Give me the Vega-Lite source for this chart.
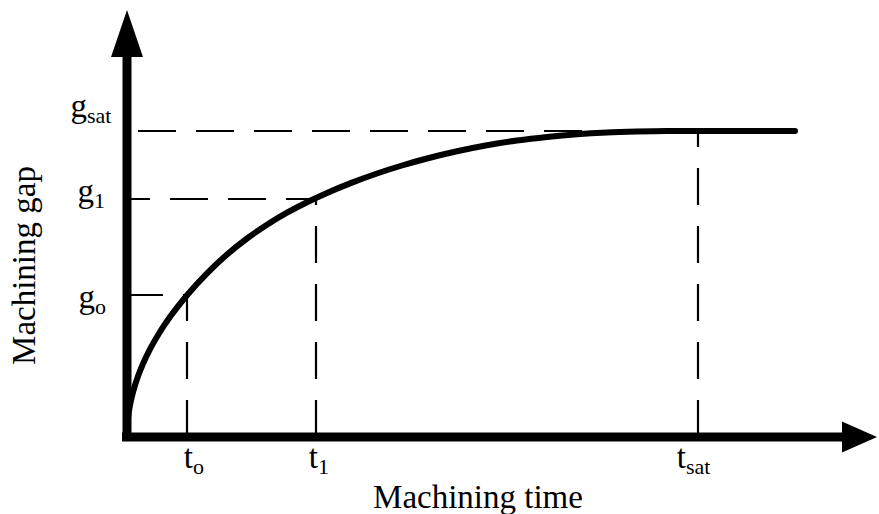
{
  "$schema": "https://vega.github.io/schema/vega-lite/v6.json",
  "width": 879,
  "height": 514,
  "padding": 0,
  "autosize": {"type": "none"},
  "background": "white",
  "config": {
    "view": {"stroke": null},
    "text": {"font": "Liberation Serif", "color": "black"}
  },
  "datasets": {
    "curve": [
      {"t": 0, "g": 0}, {"t": 0.5, "g": 12.9}, {"t": 1, "g": 18.3}, {"t": 2, "g": 25.9},
      {"t": 4, "g": 36.6}, {"t": 7, "g": 48.4}, {"t": 11, "g": 60.7}, {"t": 16, "g": 73.2},
      {"t": 23, "g": 87.8}, {"t": 32, "g": 103.5}, {"t": 44, "g": 121.4}, {"t": 60, "g": 141.8},
      {"t": 80, "g": 163.7}, {"t": 100, "g": 182.5}, {"t": 120, "g": 198.5}, {"t": 140, "g": 212.3},
      {"t": 160, "g": 224.3}, {"t": 180, "g": 234.8}, {"t": 200, "g": 244.1}, {"t": 225, "g": 254.4},
      {"t": 250, "g": 263.5}, {"t": 275, "g": 271.5}, {"t": 300, "g": 278.5}, {"t": 330, "g": 285.7},
      {"t": 360, "g": 291.7}, {"t": 390, "g": 296.5}, {"t": 420, "g": 300.1}, {"t": 450, "g": 302.8},
      {"t": 480, "g": 304.5}, {"t": 510, "g": 305.4}, {"t": 540, "g": 305.9}, {"t": 570, "g": 306},
      {"t": 668, "g": 306}
    ],
    "hguides": [
      {"level": "gsat", "g": 306, "from": 11, "to": 523},
      {"level": "g1", "g": 238, "from": 4, "to": 189},
      {"level": "g0", "g": 142, "from": 4, "to": 60}
    ],
    "vguides": [
      {"time": "t0", "t": 60, "base": 0, "g": 142},
      {"time": "t1", "t": 189, "base": 0, "g": 238},
      {"time": "tsat", "t": 571, "base": 0, "g": 306}
    ],
    "axes": [
      {"axis": "y", "x": 0, "x2": 0, "y": -4, "y2": 382},
      {"axis": "x", "x": -5, "x2": 717, "y": 0, "y2": 0}
    ],
    "arrows": [
      {"dir": "y", "x": 0, "y": 403.5},
      {"dir": "x", "x": 732.5, "y": 0}
    ],
    "ticklabels": [
      {"main": "g", "sub": "sat", "x": -40, "y": 320},
      {"main": "g", "sub": "1", "x": -33, "y": 235},
      {"main": "g", "sub": "o", "x": -32, "y": 129},
      {"main": "t", "sub": "o", "x": 66, "y": -31},
      {"main": "t", "sub": "1", "x": 191, "y": -31},
      {"main": "t", "sub": "sat", "x": 559, "y": -31}
    ],
    "titles": [
      {"text": "Machining time", "x": 351, "y": -71, "dir": "h"},
      {"text": "Machining gap", "x": -92, "y": 171.5, "dir": "v"}
    ]
  },
  "layer": [
    {
      "data": {"name": "vguides"},
      "mark": {"type": "rule", "color": "black", "strokeWidth": 2.2, "strokeDash": [37, 21]},
      "encoding": {
        "x": {"field": "t", "type": "quantitative", "axis": null, "scale": {"domain": [-127, 752], "nice": false, "zero": false}},
        "y": {"field": "base", "type": "quantitative", "axis": null, "scale": {"domain": [-77, 437], "nice": false, "zero": false}},
        "y2": {"field": "g"}
      }
    },
    {
      "data": {"name": "hguides"},
      "transform": [{"filter": "datum.level === 'gsat'"}],
      "mark": {"type": "rule", "color": "black", "strokeWidth": 2.2, "strokeDash": [38, 20], "strokeDashOffset": 0},
      "encoding": {
        "x": {"field": "from", "type": "quantitative", "axis": null},
        "x2": {"field": "to"},
        "y": {"field": "g", "type": "quantitative", "axis": null}
      }
    },
    {
      "data": {"name": "hguides"},
      "transform": [{"filter": "datum.level === 'g1'"}],
      "mark": {"type": "rule", "color": "black", "strokeWidth": 2.2, "strokeDash": [38, 20], "strokeDashOffset": 19},
      "encoding": {
        "x": {"field": "from", "type": "quantitative", "axis": null},
        "x2": {"field": "to"},
        "y": {"field": "g", "type": "quantitative", "axis": null}
      }
    },
    {
      "data": {"name": "hguides"},
      "transform": [{"filter": "datum.level === 'g0'"}],
      "mark": {"type": "rule", "color": "black", "strokeWidth": 2.2, "strokeDash": [38, 20], "strokeDashOffset": 6},
      "encoding": {
        "x": {"field": "from", "type": "quantitative", "axis": null},
        "x2": {"field": "to"},
        "y": {"field": "g", "type": "quantitative", "axis": null}
      }
    },
    {
      "data": {"name": "curve"},
      "mark": {"type": "line", "color": "black", "strokeWidth": 6, "interpolate": "monotone", "strokeCap": "round"},
      "encoding": {
        "x": {"field": "t", "type": "quantitative", "axis": null},
        "y": {"field": "g", "type": "quantitative", "axis": null}
      }
    },
    {
      "data": {"name": "axes"},
      "mark": {"type": "rule", "color": "black", "strokeWidth": 9, "strokeCap": "butt"},
      "encoding": {
        "x": {"field": "x", "type": "quantitative", "axis": null},
        "x2": {"field": "x2"},
        "y": {"field": "y", "type": "quantitative", "axis": null},
        "y2": {"field": "y2"}
      }
    },
    {
      "data": {"name": "arrows"},
      "transform": [{"filter": "datum.dir === 'y'"}],
      "mark": {"type": "point", "filled": true, "color": "black", "opacity": 1, "shape": "M0,-1L0.68,1L-0.68,1Z", "size": 2209},
      "encoding": {
        "x": {"field": "x", "type": "quantitative", "axis": null},
        "y": {"field": "y", "type": "quantitative", "axis": null}
      }
    },
    {
      "data": {"name": "arrows"},
      "transform": [{"filter": "datum.dir === 'x'"}],
      "mark": {"type": "point", "filled": true, "color": "black", "opacity": 1, "shape": "M1,0L-1,-0.886L-1,0.886Z", "size": 1225},
      "encoding": {
        "x": {"field": "x", "type": "quantitative", "axis": null},
        "y": {"field": "y", "type": "quantitative", "axis": null}
      }
    },
    {
      "data": {"name": "ticklabels"},
      "mark": {"type": "text", "fontSize": 33, "align": "right", "baseline": "alphabetic"},
      "encoding": {
        "x": {"field": "x", "type": "quantitative", "axis": null},
        "y": {"field": "y", "type": "quantitative", "axis": null},
        "text": {"field": "main"}
      }
    },
    {
      "data": {"name": "ticklabels"},
      "mark": {"type": "text", "fontSize": 22, "align": "left", "baseline": "alphabetic", "dy": 6},
      "encoding": {
        "x": {"field": "x", "type": "quantitative", "axis": null},
        "y": {"field": "y", "type": "quantitative", "axis": null},
        "text": {"field": "sub"}
      }
    },
    {
      "data": {"name": "titles"},
      "transform": [{"filter": "datum.dir === 'h'"}],
      "mark": {"type": "text", "fontSize": 33, "align": "center", "baseline": "alphabetic"},
      "encoding": {
        "x": {"field": "x", "type": "quantitative", "axis": null},
        "y": {"field": "y", "type": "quantitative", "axis": null},
        "text": {"field": "text"}
      }
    },
    {
      "data": {"name": "titles"},
      "transform": [{"filter": "datum.dir === 'v'"}],
      "mark": {"type": "text", "fontSize": 33, "align": "center", "baseline": "alphabetic", "angle": 270},
      "encoding": {
        "x": {"field": "x", "type": "quantitative", "axis": null},
        "y": {"field": "y", "type": "quantitative", "axis": null},
        "text": {"field": "text"}
      }
    }
  ]
}
